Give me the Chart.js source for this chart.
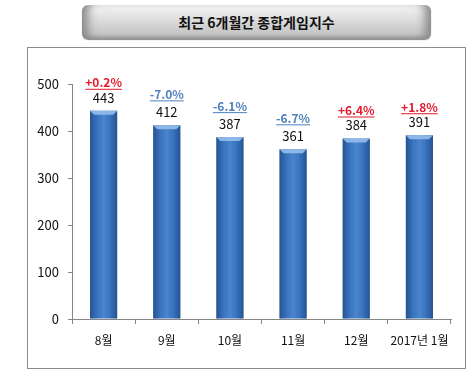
<!DOCTYPE html>
<html>
<head>
<meta charset="utf-8">
<script src="https://cdn.jsdelivr.net/npm/chart.js@4"></script>
<style>
  html, body { margin: 0; padding: 0; background: #fff; }
  #wrap { position: relative; width: 474px; height: 376px; overflow: hidden; }
  #frame { position: absolute; left: 27px; top: 47px; width: 437px; height: 320px; border: 1px solid #8c8c8c; }
  #title {
    position: absolute; left: 82px; top: 5px; width: 349px; height: 34px;
    border-radius: 6px;
    background: linear-gradient(to bottom, #f4f4f4 0%, #dcdcdc 45%, #c4c4c4 85%, #9a9a9a 100%);
    box-shadow: inset 12px 0 10px -6px #8a8a8a, inset -12px 0 10px -6px #8a8a8a, 0 1px 1px #888;
    font: bold 14px "Noto Sans CJK KR", sans-serif; color: #111;
    text-align: center; line-height: 34px;
  }
  canvas { position: absolute; left: 0; top: 0; }
</style>
</head>
<body>
<div id="wrap">
  <div id="frame"></div>
  <div id="title">최근 6개월간 종합게임지수</div>
  <canvas id="chart" width="474" height="376"></canvas>
</div>
<script>
const ctx1 = document.getElementById('chart');

let months = ['8월', '9월', '10월', '11월', '12월', '2017년 1월']
let valores = [443, 412, 387, 361, 384, 391]
let changes = ['+0.2%', '-7.0%', '-6.1%', '-6.7%', '+6.4%', '+1.8%']

const labelPlugin = {
  id: 'labels',
  afterDatasetsDraw(chart) {
    const c = chart.ctx
    const meta = chart.getDatasetMeta(0)
    meta.data.forEach((bar, i) => {
      const half = bar.width / 2
      const left = bar.x - half
      const h = bar.base - bar.y

      // darker edges so the bar looks rounded
      c.save()
      const g = c.createLinearGradient(left, 0, left + bar.width, 0)
      g.addColorStop(0, 'rgba(20,50,100,0.55)')
      g.addColorStop(0.3, 'rgba(20,50,100,0.05)')
      g.addColorStop(0.5, 'rgba(255,255,255,0.08)')
      g.addColorStop(0.7, 'rgba(20,50,100,0.05)')
      g.addColorStop(1, 'rgba(20,50,100,0.55)')
      c.fillStyle = g
      c.fillRect(left, bar.y, bar.width, h)

      // light top bevel
      c.fillStyle = 'rgba(150,190,235,0.9)'
      c.beginPath()
      c.moveTo(left, bar.y)
      c.lineTo(left + bar.width, bar.y)
      c.lineTo(left + bar.width - 4, bar.y + 4)
      c.lineTo(left + 4, bar.y + 4)
      c.closePath()
      c.fill()
      c.restore()

      c.save()
      c.textAlign = 'center'
      c.textBaseline = 'middle'
      c.font = '13px "Noto Sans CJK KR", sans-serif'
      c.fillStyle = '#111'
      const vy = bar.y - 13
      c.fillText(valores[i], bar.x, vy)

      const up = changes[i][0] === '+'
      const py = vy - (up ? 15 : 18)
      c.font = '600 12px "Noto Sans CJK KR", sans-serif'
      c.fillStyle = up ? '#e3192d' : '#4f81bd'
      c.fillText(changes[i], bar.x, py)
      const w = c.measureText(changes[i]).width
      c.fillRect(bar.x - w / 2, py + 6, w, 1)
      c.restore()
    })
  }
}

let teste = {
  type: 'bar',
  data: {
    labels: months,
    datasets: [{
      data: valores,
      backgroundColor: '#3d7bc8',
      borderWidth: 0,
      barPercentage: 0.43,
      categoryPercentage: 1
    }]
  },
  options: {
    responsive: false,
    animation: false,
    layout: { padding: { top: 84, right: 23, left: 0, bottom: 0 } },
    plugins: { legend: { display: false }, tooltip: { enabled: false } },
    scales: {
      x: {
        afterFit: s => { s.height = 57 },
        border: { color: '#868686' },
        grid: { drawOnChartArea: false, tickLength: 5, color: '#868686', offset: true },
        ticks: { color: '#111', font: { size: 12, family: '"Noto Sans CJK KR", sans-serif' }, padding: 9, maxRotation: 0 }
      },
      y: {
        min: 0, max: 500,
        afterFit: s => { s.width = 72 },
        border: { color: '#868686' },
        grid: { drawOnChartArea: false, tickLength: 4, color: '#868686' },
        ticks: { stepSize: 100, color: '#111', font: { size: 13, family: '"Noto Sans CJK KR", sans-serif' }, padding: 9 }
      }
    }
  },
  plugins: [labelPlugin]
}

let chart = new Chart(ctx1, teste);
</script>
</body>
</html>
